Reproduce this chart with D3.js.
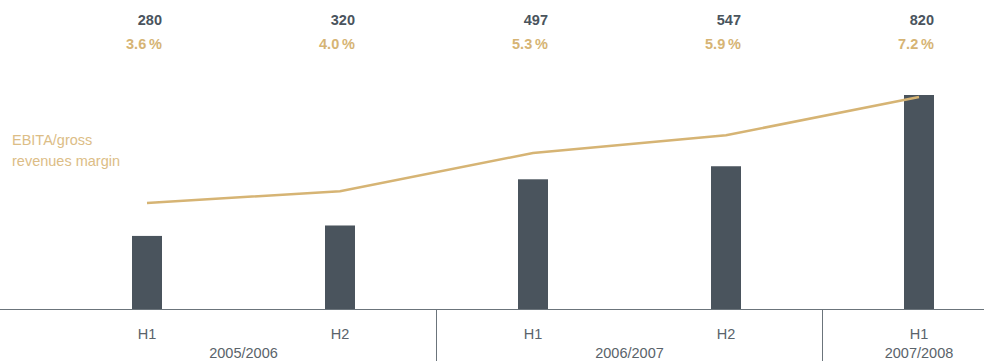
<!DOCTYPE html>
<html>
<head>
<meta charset="utf-8">
<script src="https://cdn.jsdelivr.net/npm/d3@7"></script>
<style>
  body { margin: 0; background: #fff; }
  text { font-family: "Liberation Sans", Arial, sans-serif; }
</style>
</head>
<body>
<div id="chart"></div>
<script>
// Data
var periods = ["H1", "H2", "H1", "H2", "H1"];
var ebita = [280, 320, 497, 547, 820];
var margins = [3.6, 4.0, 5.3, 5.9, 7.2];
var years = ["2005/2006", "2006/2007", "2007/2008"];
var yearGroups = [[0, 1], [2, 3], [4]];

var svgWidth = 984;
var svgHeight = 361;
var baseY = 309;

var svg = d3.select("#chart")
  .append("svg")
  .attr("width", svgWidth)
  .attr("height", svgHeight);

// scales
var xScale = d3.scalePoint()
  .domain(d3.range(ebita.length))
  .range([147, 919]);

var barWidth = 30;

var yBar = d3.scaleLinear()
  .domain([0, 820])
  .range([baseY, 95]);

var yLine = d3.scaleLinear()
  .domain([0, 7.2])
  .range([baseY, 97]);

// bars
svg.selectAll("rect.bar")
  .data(ebita)
  .enter()
  .append("rect")
  .attr("class", "bar")
  .attr("x", (d, i) => xScale(i) - barWidth / 2)
  .attr("y", d => yBar(d))
  .attr("width", barWidth)
  .attr("height", d => baseY - yBar(d))
  .attr("fill", "#4a545d");

// margin line
var line = d3.line()
  .x((d, i) => xScale(i))
  .y(d => yLine(d));

svg.append("path")
  .datum(margins)
  .attr("d", line)
  .attr("fill", "none")
  .attr("stroke", "#d6b474")
  .attr("stroke-width", 2.5);

// axis line
svg.append("line")
  .attr("x1", 0)
  .attr("x2", svgWidth)
  .attr("y1", baseY + 0.5)
  .attr("y2", baseY + 0.5)
  .attr("stroke", "#6b747b")
  .attr("stroke-width", 1);

// separators between fiscal years
for (var g = 0; g < yearGroups.length - 1; g++) {
  var last = yearGroups[g][yearGroups[g].length - 1];
  var sx = Math.round((xScale(last) + xScale(last + 1)) / 2) - 0.5;
  svg.append("line")
    .attr("x1", sx).attr("x2", sx)
    .attr("y1", baseY).attr("y2", svgHeight)
    .attr("stroke", "#6b747b")
    .attr("stroke-width", 1);
}

// period labels
svg.selectAll("text.period")
  .data(periods)
  .enter()
  .append("text")
  .attr("class", "period")
  .attr("x", (d, i) => xScale(i))
  .attr("y", 339)
  .attr("text-anchor", "middle")
  .attr("font-size", "14.5px")
  .attr("fill", "#5a636a")
  .text(d => d);

// year labels
svg.selectAll("text.year")
  .data(years)
  .enter()
  .append("text")
  .attr("class", "year")
  .attr("x", (d, i) => d3.mean(yearGroups[i], j => xScale(j)))
  .attr("y", 358)
  .attr("text-anchor", "middle")
  .attr("font-size", "14.5px")
  .attr("fill", "#5a636a")
  .text(d => d);

// value labels at top
svg.selectAll("text.value")
  .data(ebita)
  .enter()
  .append("text")
  .attr("class", "value")
  .attr("x", (d, i) => xScale(i) + barWidth / 2)
  .attr("y", 25)
  .attr("text-anchor", "end")
  .attr("font-size", "14.5px")
  .attr("font-weight", "bold")
  .attr("fill", "#4a545d")
  .text(d => d);

svg.selectAll("text.margin")
  .data(margins)
  .enter()
  .append("text")
  .attr("class", "margin")
  .attr("x", (d, i) => xScale(i) + barWidth / 2)
  .attr("y", 49)
  .attr("text-anchor", "end")
  .attr("font-size", "14.5px")
  .attr("font-weight", "bold")
  .attr("fill", "#d6b474")
  .text(d => d.toFixed(1) + "\u2009%");

// legend label
var legend = svg.append("text")
  .attr("x", 12)
  .attr("y", 145)
  .attr("font-size", "14.5px")
  .attr("fill", "#dcbd86");
legend.append("tspan").attr("x", 12).text("EBITA/gross");
legend.append("tspan").attr("x", 12).attr("dy", 21).text("revenues margin");
</script>
</body>
</html>
